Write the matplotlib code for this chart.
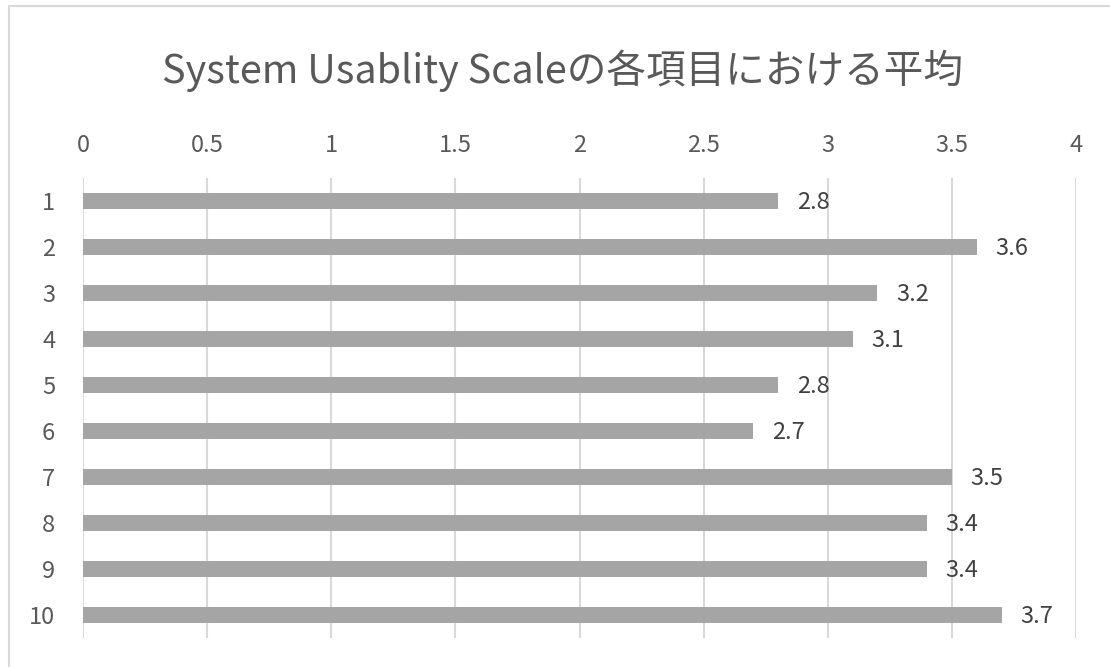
import matplotlib
matplotlib.use("Agg")
import matplotlib.pyplot as plt
from matplotlib.patches import Rectangle

plt.rcParams['font.family'] = ['Noto Sans CJK JP', 'DejaVu Sans']

# data
items = ['1', '2', '3', '4', '5', '6', '7', '8', '9', '10']
means = [2.8, 3.6, 3.2, 3.1, 2.8, 2.7, 3.5, 3.4, 3.4, 3.7]
xticks = [0, 0.5, 1, 1.5, 2, 2.5, 3, 3.5, 4]
title = 'System Usablity Scaleの各項目における平均'

W, H = 1110, 667
fig = plt.figure(figsize=(W / 100, H / 100), dpi=100)
fig.patch.set_facecolor('white')

# chart frame (cut off at right / bottom in the original)
fig.add_artist(Rectangle((9 / W, -0.1), 1.2, 1 - 6 / H + 0.1, transform=fig.transFigure,
                         fill=False, edgecolor='#d9d9d9', linewidth=1.5))

ax = fig.add_axes([83 / W, 1 - 638 / H, (1076 - 83) / W, (638 - 178) / H])

pos = list(range(1, len(items) + 1))
ax.barh(pos, means, height=0.35, color='#a5a5a5', zorder=3)

for p, v in zip(pos, means):
    ax.text(v + 0.075, p + 0.03, f'{v:.1f}', va='center', ha='left',
            fontsize=17, color='#404040')

ax.set_xlim(0, 4)
ax.set_ylim(10.5, 0.5)
ax.set_xticks(xticks)
ax.set_xticklabels([f'{t:g}' for t in xticks])
ax.set_yticks(pos)
ax.set_yticklabels(items)
ax.xaxis.tick_top()
ax.tick_params(axis='x', length=0, pad=15, labelsize=17, labelcolor='#595959')
ax.tick_params(axis='y', length=0, pad=20, labelsize=17, labelcolor='#595959')
ax.grid(axis='x', color='#d9d9d9', linewidth=1.5, zorder=0)
for s in ax.spines.values():
    s.set_visible(False)

fig.text(563 / W, 1 - 71 / H, title, ha='center', va='center',
         fontsize=28.5, color='#595959')

fig.savefig('out.png', dpi=100)
